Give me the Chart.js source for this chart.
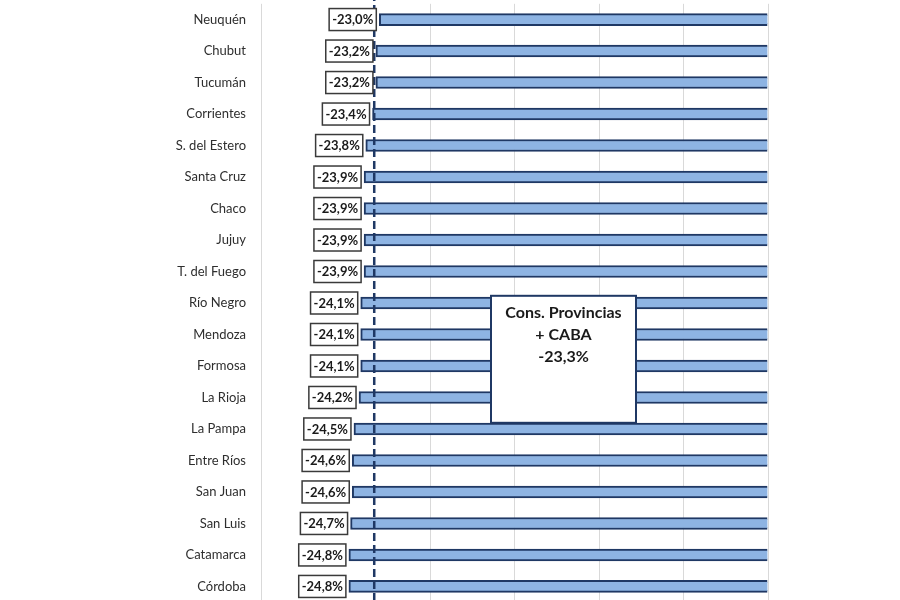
<!DOCTYPE html>
<html>
<head>
<meta charset="utf-8">
<script src="https://cdn.jsdelivr.net/npm/chart.js@4/dist/chart.umd.min.js"></script>
<style>
  html, body { margin: 0; padding: 0; background: #ffffff; }
  #wrap { position: relative; width: 900px; height: 600px; overflow: hidden; background: #ffffff; }
  #c { position: absolute; left: 0; top: 0; }
</style>
</head>
<body>
<div id="wrap"><canvas id="c" width="900" height="650"></canvas></div>
<script>
const categories = ['Neuquén', 'Chubut', 'Tucumán', 'Corrientes', 'S. del Estero', 'Santa Cruz', 'Chaco', 'Jujuy', 'T. del Fuego', 'Río Negro', 'Mendoza', 'Formosa', 'La Rioja', 'La Pampa', 'Entre Ríos', 'San Juan', 'San Luis', 'Catamarca', 'Córdoba'];
const values = [-23.0, -23.2, -23.2, -23.4, -23.8, -23.9, -23.9, -23.9, -23.9, -24.1, -24.1, -24.1, -24.2, -24.5, -24.6, -24.6, -24.7, -24.8, -24.8];
const averageValue = -23.3;
const averageLines = ['Cons. Provincias', '+ CABA', '-23,3%'];

const fmt = v => v.toFixed(1).replace('.', ',') + '%';

const overlayPlugin = {
  id: 'overlay',
  afterDatasetsDraw(chart) {
    const ctx = chart.ctx;
    const xs = chart.scales.x;
    const area = chart.chartArea;
    // dashed average line
    const ax = xs.getPixelForValue(averageValue);
    ctx.save();
    ctx.strokeStyle = '#1f3864';
    ctx.lineWidth = 2.5;
    ctx.setLineDash([8, 4]);
    ctx.beginPath();
    ctx.moveTo(ax, 0);
    ctx.lineTo(ax, chart.height);
    ctx.stroke();
    ctx.restore();

    // value label boxes
    const meta = chart.getDatasetMeta(0);
    ctx.save();
    ctx.font = 'bold 13px Lato';
    ctx.textBaseline = 'middle';
    ctx.textAlign = 'center';
    meta.data.forEach((bar, i) => {
      const txt = fmt(values[i]);
      const w = ctx.measureText(txt).width + 6;
      const h = 22;
      const right = bar.x - 3;
      const left = right - w;
      const top = bar.y - h / 2;
      ctx.fillStyle = '#ffffff';
      ctx.fillRect(left, top, w, h);
      ctx.strokeStyle = '#3a3a3a';
      ctx.lineWidth = 1.5;
      ctx.strokeRect(left, top, w, h);
      ctx.fillStyle = '#1a1a1a';
      ctx.fillText(txt, left + w / 2, bar.y + 0.5);
    });
    ctx.restore();

    // annotation box
    const bx = area.left + 230, by = area.top + 292, bw = 145, bh = 127;
    ctx.save();
    ctx.fillStyle = '#ffffff';
    ctx.fillRect(bx, by, bw, bh);
    ctx.strokeStyle = '#1f3864';
    ctx.lineWidth = 2;
    ctx.strokeRect(bx, by, bw, bh);
    ctx.fillStyle = '#1a1a1a';
    ctx.font = 'bold 16px Lato';
    ctx.textAlign = 'center';
    ctx.textBaseline = 'middle';
    averageLines.forEach((line, i) => {
      ctx.fillText(line, bx + bw / 2, by + 17 + i * 22);
    });
    ctx.restore();
  }
};

const canvas = document.getElementById('c');
const chart = new Chart(canvas, {
  type: 'bar',
  data: {
    labels: categories,
    datasets: [{
      data: values,
      backgroundColor: '#8eb4e3',
      borderColor: '#1f3864',
      borderWidth: 2,
      barThickness: 12
    }]
  },
  options: {
    indexAxis: 'y',
    responsive: false,
    maintainAspectRatio: false,
    animation: false,
    devicePixelRatio: 1,
    layout: { padding: { left: 0, right: 132, top: 0, bottom: 0 } },
    plugins: { legend: { display: false }, tooltip: { enabled: false } },
    scales: {
      x: {
        min: -30,
        max: 0,
        ticks: { display: false, stepSize: 5 },
        grid: {
          drawTicks: false,
          color: ctx => (ctx.tick && ctx.tick.value === -25) ? 'rgba(0,0,0,0)' : '#d9d9d9',
          lineWidth: 1
        },
        border: { display: false },
        afterFit: s => { s.height = 0; }
      },
      y: {
        ticks: {
          padding: 15,
          color: '#2e2e2e',
          font: { family: 'Lato', size: 13 }
        },
        grid: { display: false, drawTicks: false },
        border: { display: false },
        afterFit: s => { s.width = 261; }
      }
    }
  },
  plugins: [overlayPlugin]
});

// size the canvas so the plot area spans the wanted band (rows continue past the frame)
const wantTop = 4.25, wantHeight = 598.5;
const padTop = chart.chartArea.top;
const padBottom = chart.height - chart.chartArea.bottom;
chart.resize(900, Math.round(wantHeight + padTop + padBottom));
canvas.style.top = (wantTop - chart.chartArea.top) + 'px';
</script>
</body>
</html>
